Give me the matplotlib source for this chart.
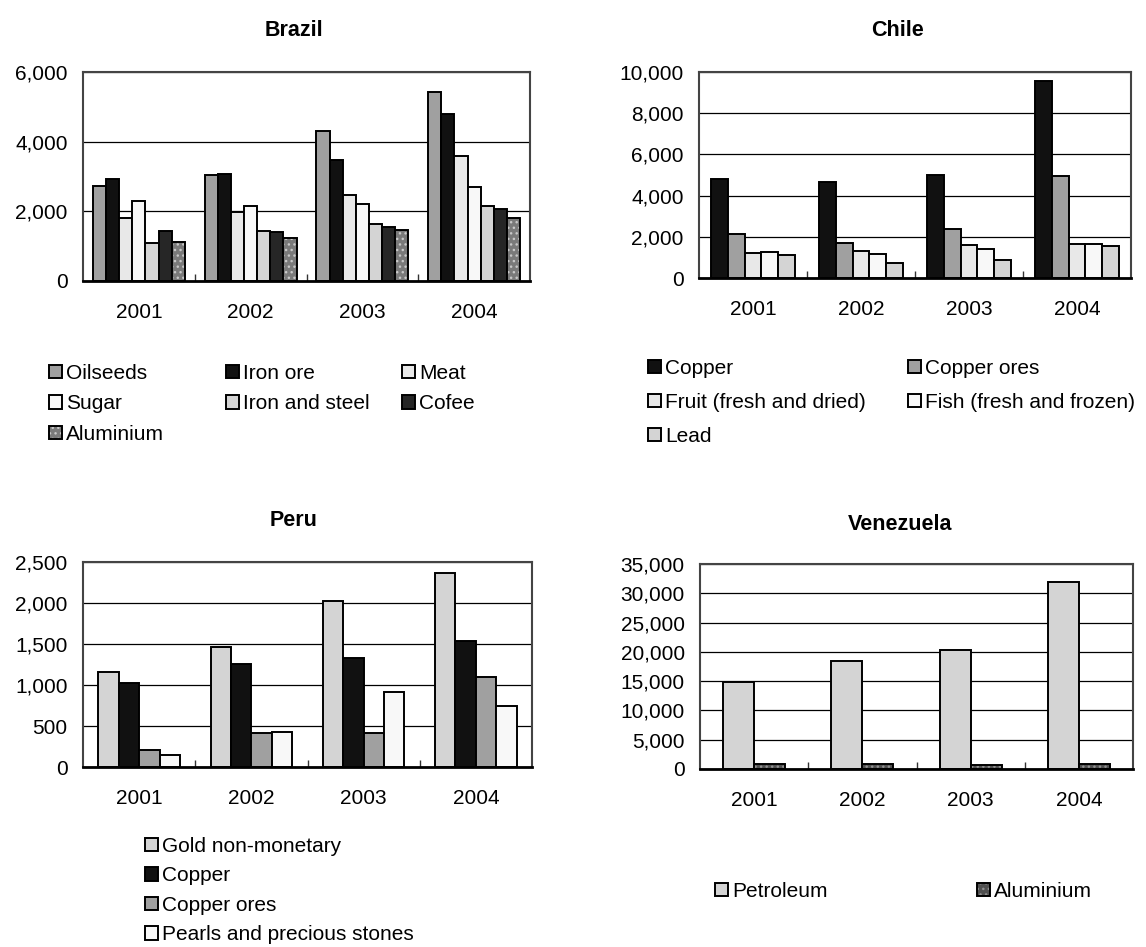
import matplotlib
matplotlib.use('Agg')
import matplotlib.pyplot as plt
import numpy as np
from matplotlib.patches import Patch
from matplotlib.legend_handler import HandlerTuple
from matplotlib.ticker import StrMethodFormatter, FixedLocator

plt.rcParams['font.family'] = ['Liberation Sans', 'DejaVu Sans']
plt.rcParams['font.size'] = 15

years = ['2001', '2002', '2003', '2004']

# Brazil
brazil_names = ['Oilseeds', 'Iron ore', 'Meat', 'Sugar', 'Iron and steel', 'Cofee', 'Aluminium']
brazil_oilseeds = [2730, 3050, 4310, 5440]
brazil_iron_ore = [2940, 3060, 3470, 4780]
brazil_meat = [1800, 1980, 2480, 3580]
brazil_sugar = [2300, 2140, 2220, 2710]
brazil_iron_steel = [1100, 1430, 1640, 2140]
brazil_cofee = [1430, 1400, 1560, 2070]
brazil_aluminium = [1120, 1240, 1460, 1820]

# Chile
chile_names = ['Copper', 'Copper ores', 'Fruit (fresh and dried)', 'Fish (fresh and frozen)', 'Lead']
chile_copper = [4810, 4650, 5000, 9550]
chile_copper_ores = [2130, 1710, 2390, 4940]
chile_fruit = [1210, 1320, 1580, 1650]
chile_fish = [1260, 1160, 1400, 1630]
chile_lead = [1100, 710, 860, 1530]

# Peru
peru_names = ['Gold non-monetary', 'Copper', 'Copper ores', 'Pearls and precious stones']
peru_gold = [1160, 1460, 2020, 2360]
peru_copper = [1020, 1255, 1335, 1540]
peru_copper_ores = [205, 420, 415, 1100]
peru_pearls = [145, 425, 915, 750]

# Venezuela
ven_names = ['Petroleum', 'Aluminium']
ven_petroleum = [14800, 18400, 20300, 31900]
ven_aluminium = [800, 800, 740, 910]

MID, BLACK, LIGHT, WHITE, LGRAY, DARK = '#a0a0a0', '#111111', '#e8e8e8', '#f8f8f8', '#d4d4d4', '#262626'
DOT = ('#7a7a7a', '#c8c8c8')      # dotted fill: base, dots
DOT_DARK = ('#505050', '#909090')

W, H = 1146, 947
fig = plt.figure(figsize=(W / 100, H / 100), dpi=100)


def rect(l, r, t, b):
    return [l / W, 1 - b / H, (r - l) / W, (b - t) / H]


def bar_chart(box, title, title_xy, series, styles, ymax, ystep):
    ax = fig.add_axes(rect(*box))
    n = len(series)
    w = 1.0 / (n + 1.5)
    x = np.arange(1, 5)
    handles = []
    for i, (vals, st) in enumerate(zip(series, styles)):
        pos = x - 0.5 + 1.25 * w + w * i
        if isinstance(st, tuple):
            ax.bar(pos, vals, w, color=st[0], hatch='...', edgecolor=st[1], linewidth=0, zorder=3)
            ax.bar(pos, vals, w, fill=False, edgecolor='black', linewidth=1.4, zorder=4)
            handles.append((Patch(facecolor=st[0], hatch='...', edgecolor=st[1], linewidth=0),
                            Patch(fill=False, edgecolor='black', linewidth=1.4)))
        else:
            ax.bar(pos, vals, w, color=st, edgecolor='black', linewidth=1.4, zorder=3)
            handles.append(Patch(facecolor=st, edgecolor='black', linewidth=1.4))
    ax.set_xlim(0.5, 4.5)
    ax.set_ylim(0, ymax)
    ax.yaxis.set_major_locator(FixedLocator(np.arange(0, ymax + 1, ystep)))
    ax.yaxis.set_major_formatter(StrMethodFormatter('{x:,.0f}'))
    ax.tick_params(axis='y', length=0, pad=11, labelsize=15)
    ax.set_xticks(x)
    ax.set_xticklabels(years)
    ax.tick_params(axis='x', which='major', length=0, pad=16, labelsize=15)
    ax.set_xticks([1.5, 2.5, 3.5], minor=True)
    ax.tick_params(axis='x', which='minor', direction='in', length=5, width=1, color='#333333')
    ax.grid(axis='y', color='black', linewidth=0.9, zorder=1)
    for s in ['top', 'right', 'left']:
        ax.spines[s].set_color('#444444')
        ax.spines[s].set_linewidth(1.5)
    ax.spines['bottom'].set_color('black')
    ax.spines['bottom'].set_linewidth(2)
    ax.spines['bottom'].set_zorder(5)
    fig.text(title_xy[0] / W, 1 - title_xy[1] / H, title, ha='center', va='center',
             fontsize=15.5, fontweight='bold')
    return ax, handles


def add_legend(ax, handles, names, columns, xs, y_top, spacing):
    for col, xpix in zip(columns, xs):
        leg = ax.legend([handles[i] for i in col], [names[i] for i in col],
                        loc='upper left', bbox_to_anchor=(xpix / W, 1 - y_top / H),
                        bbox_transform=fig.transFigure, frameon=False, fontsize=15,
                        borderpad=0, borderaxespad=0, handlelength=0.62, handleheight=0.62,
                        handletextpad=0.2, labelspacing=spacing,
                        handler_map={tuple: HandlerTuple(ndivide=1, pad=0)})
        ax.add_artist(leg)
    ax.legend_ = None


ax, hs = bar_chart((83, 530, 72, 281), 'Brazil', (294, 30),
                   [brazil_oilseeds, brazil_iron_ore, brazil_meat, brazil_sugar,
                    brazil_iron_steel, brazil_cofee, brazil_aluminium],
                   [MID, BLACK, LIGHT, WHITE, LGRAY, DARK, DOT], 6000, 2000)
add_legend(ax, hs, brazil_names, [[0, 3, 6], [1, 4], [2, 5]], [49, 226, 402], 364, 0.55)

ax, hs = bar_chart((699, 1131, 72, 278), 'Chile', (897, 30),
                   [chile_copper, chile_copper_ores, chile_fruit, chile_fish, chile_lead],
                   [BLACK, MID, LIGHT, WHITE, LGRAY], 10000, 2000)
add_legend(ax, hs, chile_names, [[0, 2, 4], [1, 3]], [648, 908], 359, 0.72)

ax, hs = bar_chart((83, 532, 562, 767), 'Peru', (294, 520),
                   [peru_gold, peru_copper, peru_copper_ores, peru_pearls],
                   [LGRAY, BLACK, MID, WHITE], 2500, 500)
add_legend(ax, hs, peru_names, [[0, 1, 2, 3]], [145], 837, 0.5)

ax, hs = bar_chart((700, 1133, 564, 769), 'Venezuela', (900, 524),
                   [ven_petroleum, ven_aluminium],
                   [LGRAY, DOT_DARK], 35000, 5000)
add_legend(ax, hs, ven_names, [[0], [1]], [715, 977], 882, 0.5)

fig.savefig('out.png', dpi=100, facecolor='white')
